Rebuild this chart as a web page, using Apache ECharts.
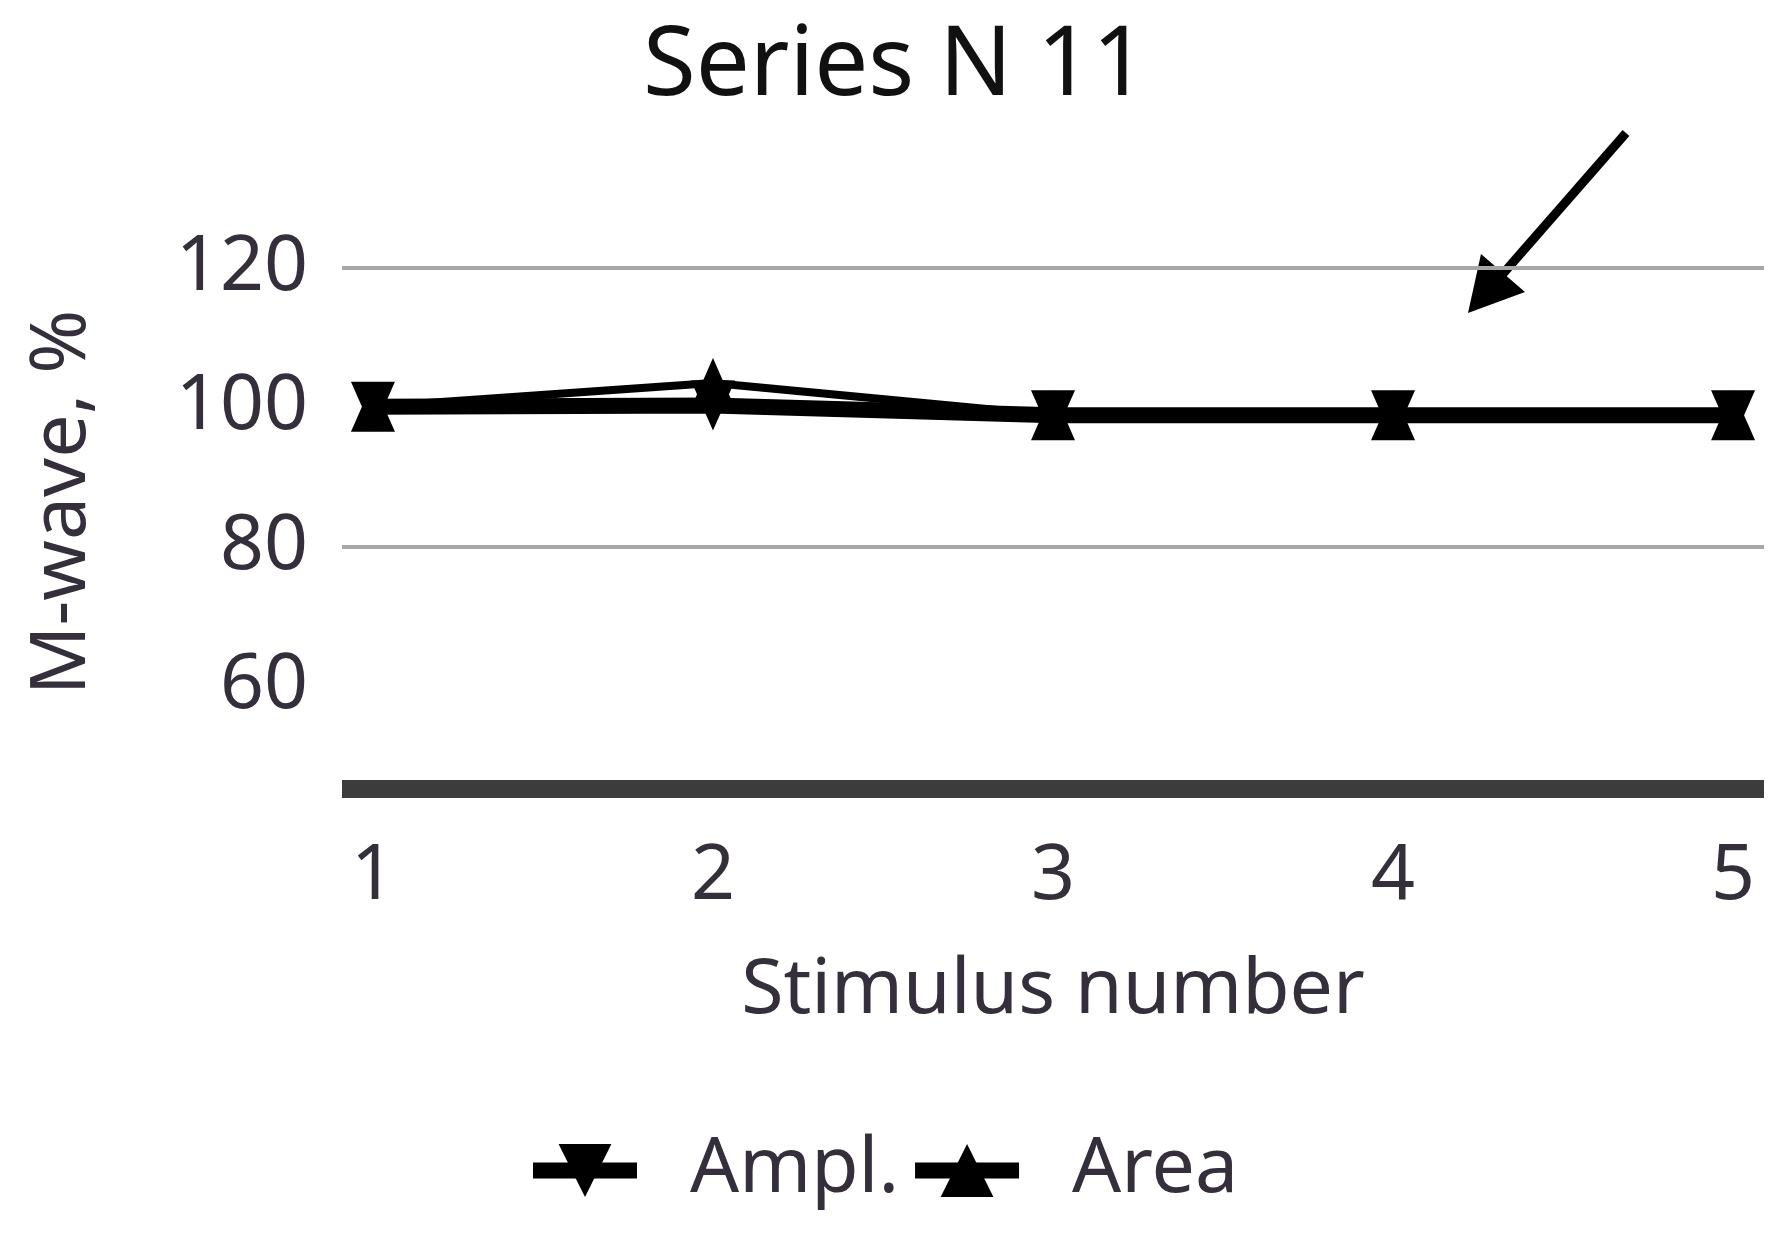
<!DOCTYPE html>
<html>
<head>
<meta charset="utf-8">
<title>Series N 11</title>
<script src="https://cdn.jsdelivr.net/npm/echarts@6/dist/echarts.min.js"></script>
<style>
    html, body { margin: 0; padding: 0; background: #fff; }
    #chart { width: 1790px; height: 1244px; }
</style>
</head>
<body>
<div id="chart"></div>
<script>
    // stimulus numbers and M-wave values (% of first response)
    var stimulus = [1, 2, 3, 4, 5];
    var ampl = [100.1, 100.3, 98.9, 98.9, 98.9];
    var area = [100.1, 103.5, 98.9, 98.9, 98.9];
    var yTicks = [60, 80, 100, 120];
    var gridValues = [80, 120];

    var FONT = '"Noto Sans", "Open Sans", sans-serif';
    var TXT = '#352f3c';
    var FS = 77;

    function pairs(xs, ys) {
        return xs.map(function (x, i) { return [x, ys[i]]; });
    }

    var chart = echarts.init(document.getElementById('chart'));

    var option = {
        backgroundColor: '#ffffff',
        animation: false,
        title: {
            text: 'Series N 11',
            left: 'center',
            top: 15,
            textStyle: { fontFamily: FONT, fontSize: 96, fontWeight: 'normal', color: '#111' }
        },
        grid: { left: 342, right: 26, top: 268, bottom: 455 },
        legend: {
            bottom: 30,
            left: 520,
            itemWidth: 104,
            itemHeight: 66,
            itemGap: 8,
            lineStyle: { width: 16 },
            textStyle: { fontFamily: FONT, fontSize: FS, color: TXT, padding: [0, 0, 0, 48] },
            data: ['Ampl.', 'Area']
        },
        xAxis: {
            type: 'value',
            min: 0.909,
            max: 5.091,
            name: 'Stimulus number',
            nameLocation: 'middle',
            nameGap: 164,
            nameTextStyle: { fontFamily: FONT, fontSize: FS, color: TXT },
            axisLine: { onZero: false, lineStyle: { color: '#3c3c3c', width: 18, cap: 'butt' } },
            axisTick: { show: false },
            splitLine: { show: false },
            axisLabel: {
                customValues: stimulus,
                margin: 50,
                fontFamily: FONT, fontSize: FS, color: TXT
            }
        },
        yAxis: {
            type: 'value',
            min: 45.3,
            max: 120,
            name: 'M-wave, %',
            nameLocation: 'middle',
            nameGap: 240,
            nameTextStyle: { fontFamily: FONT, fontSize: FS, color: TXT, padding: [0, 0, 0, 52] },
            axisLine: { show: false },
            axisTick: { show: false },
            splitLine: { show: false },
            axisLabel: {
                customValues: yTicks,
                margin: 34,
                fontFamily: FONT, fontSize: FS, color: TXT
            }
        },
        series: [
            {
                name: 'Ampl.',
                type: 'line',
                data: pairs(stimulus, ampl),
                symbol: 'triangle',
                symbolRotate: 180,
                symbolSize: [44, 50],
                lineStyle: { color: '#000', width: 16 },
                itemStyle: { color: '#000' },
                markLine: {
                    silent: true,
                    symbol: 'none',
                    label: { show: false },
                    lineStyle: { color: '#a6a6a6', width: 4, type: 'solid' },
                    data: gridValues.map(function (v) { return { yAxis: v }; }),
                    z: 1
                },
                z: 3
            },
            {
                name: 'Area',
                type: 'line',
                data: pairs(stimulus, area),
                symbol: 'triangle',
                symbolSize: [44, 50],
                lineStyle: { color: '#000', width: 8 },
                itemStyle: { color: '#000' },
                z: 4
            }
        ],
        graphic: [
            {
                type: 'line',
                shape: { x1: 1626, y1: 133, x2: 1494, y2: 284 },
                style: { stroke: '#000', lineWidth: 9 }
            },
            {
                type: 'polygon',
                shape: { points: [[1468, 313], [1481, 254], [1525, 292]] },
                style: { fill: '#000' }
            }
        ]
    };

    chart.setOption(option);
    window.onresize = function () { chart.resize(); };
</script>
</body>
</html>
